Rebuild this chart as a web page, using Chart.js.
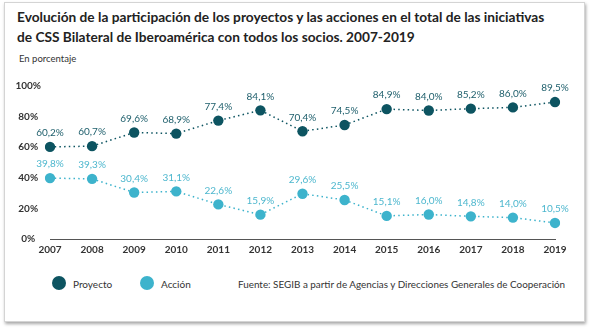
<!DOCTYPE html>
<html lang="es">
<head>
<meta charset="utf-8">
<script src="https://cdn.jsdelivr.net/npm/chart.js@4/dist/chart.umd.min.js"></script>
<style>
  html, body { margin: 0; padding: 0; background: #fff; }
  body { width: 592px; height: 329px; position: relative; overflow: hidden; font-family: Lato, "Open Sans", sans-serif; }
  .frame {
    position: absolute; left: 4px; top: 2px; width: 579px; height: 318px;
    border: 1px solid #d4d4d4; box-shadow: 1px 2px 3px rgba(0,0,0,0.35); background: #fff;
  }
  .title {
    position: absolute; left: 17px; top: 7px; width: 570px;
    font-weight: bold; font-size: 13.7px; line-height: 20px; color: #222;
  }
  .subtitle { position: absolute; left: 19px; top: 53px; font-size: 9.5px; color: #333; }
  .source { position: absolute; left: 238px; top: 278px; font-size: 9.9px; color: #333; white-space: nowrap; }
  .legend { position: absolute; left: 0; top: 0; font-size: 10px; color: #333; }
  .legend .item { position: absolute; top: 276px; height: 14px; white-space: nowrap; }
  .legend .dot { position: absolute; left: 0; top: 0; width: 14px; height: 14px; border-radius: 50%; }
  .legend .txt { position: absolute; left: 21px; top: 1.5px; line-height: 12px; }
  canvas { position: absolute; left: 0; top: 0; }
</style>
</head>
<body>
<div class="frame"></div>
<div class="title">Evolución de la participación de los proyectos y las acciones en el total de las iniciativas<br>de CSS Bilateral de Iberoamérica con todos los socios. 2007-2019</div>
<div class="subtitle">En porcentaje</div>
<div class="legend" id="legend"></div>
<div class="source">Fuente: SEGIB a partir de Agencias y Direcciones Generales de Cooperación</div>
<canvas id="chart" width="592" height="329"></canvas>
<script>
// Years on the horizontal axis
const years = ['2007','2008','2009','2010','2011','2012','2013','2014','2015','2016','2017','2018','2019'];
// Share of projects and actions, in percent
const proyecto = [60.2, 60.7, 69.6, 68.9, 77.4, 84.1, 70.4, 74.5, 84.9, 84.0, 85.2, 86.0, 89.5];
const accion   = [39.8, 39.3, 30.4, 31.1, 22.6, 15.9, 29.6, 25.5, 15.1, 16.0, 14.8, 14.0, 10.5];
// Vertical axis ticks
const yTicks = [0, 20, 40, 60, 80, 100];

const darkTeal = '#0d5461';
const lightBlue = '#3db3cc';

const fmt = v => v.toFixed(1).replace('.', ',') + '%';

// Writes each point's value just above it
const valueLabels = {
  id: 'valueLabels',
  afterDatasetsDraw(chart) {
    const ctx = chart.ctx;
    ctx.save();
    ctx.font = '10px Lato, sans-serif';
    ctx.textAlign = 'center';
    ctx.textBaseline = 'middle';
    chart.data.datasets.forEach((ds, i) => {
      const meta = chart.getDatasetMeta(i);
      ctx.fillStyle = ds.labelColor;
      meta.data.forEach((pt, j) => {
        ctx.fillText(fmt(ds.data[j]), pt.x, pt.y - 14);
      });
    });
    ctx.restore();
  }
};

// Legend row below the axis, built from the chart's datasets
const legendSpots = [52, 140];
const htmlLegend = {
  id: 'htmlLegend',
  afterUpdate(chart) {
    const box = document.getElementById('legend');
    box.innerHTML = '';
    chart.data.datasets.forEach((ds, i) => {
      const item = document.createElement('div');
      item.className = 'item';
      item.style.left = legendSpots[i] + 'px';
      const dot = document.createElement('span');
      dot.className = 'dot';
      dot.style.background = ds.backgroundColor;
      const txt = document.createElement('span');
      txt.className = 'txt';
      txt.textContent = ds.label;
      item.appendChild(dot);
      item.appendChild(txt);
      box.appendChild(item);
    });
  }
};

new Chart(document.getElementById('chart'), {
  type: 'line',
  data: {
    labels: years,
    datasets: [
      {
        label: 'Proyecto', data: proyecto,
        borderColor: darkTeal, backgroundColor: darkTeal, labelColor: '#1d5e6b',
        borderWidth: 1.5, borderDash: [1.5, 3.2],
        pointRadius: 5.2, pointHoverRadius: 5.2, pointBorderWidth: 0
      },
      {
        label: 'Acción', data: accion,
        borderColor: lightBlue, backgroundColor: lightBlue, labelColor: '#4db7ce',
        borderWidth: 1.5, borderDash: [1.5, 3.2],
        pointRadius: 5.2, pointHoverRadius: 5.2, pointBorderWidth: 0
      }
    ]
  },
  options: {
    responsive: false,
    animation: false,
    layout: { padding: { left: 10, right: 37, top: 86, bottom: 68 } },
    scales: {
      x: {
        grid: { display: false, drawTicks: false },
        border: { display: true, color: '#555', width: 1 },
        ticks: { padding: 5, color: '#333', font: { family: 'Lato', size: 10, weight: 'bold' } },
        afterFit(s) { s.height = 22; }
      },
      y: {
        min: 0, max: 100,
        afterBuildTicks(s) { s.ticks = yTicks.map(v => ({ value: v })); },
        grid: { display: false, drawTicks: false },
        border: { display: false },
        ticks: {
          padding: 9, crossAlign: 'center', color: '#333',
          font: { family: 'Lato', size: 10, weight: 'bold' },
          callback: v => v + '%'
        },
        afterFit(s) { s.width = 40; }
      }
    },
    plugins: {
      legend: { display: false },
      tooltip: { enabled: false }
    }
  },
  plugins: [valueLabels, htmlLegend]
});
</script>
</body>
</html>
